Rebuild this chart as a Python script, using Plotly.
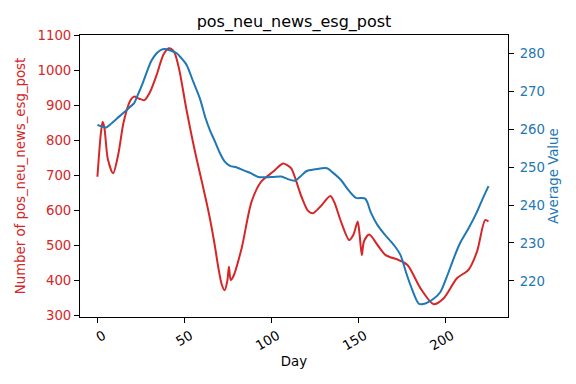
import plotly.graph_objects as go

# Red series: number of pos_neu_news_esg_post (left axis)
red_days = [0, 2, 3, 4, 6, 9, 12, 15, 18.8, 21, 24, 27, 30, 34, 38, 41, 44, 47, 51, 56,
            60, 64, 67, 69.5, 71.5, 73, 74.5, 75.5, 76.5, 78, 82.8, 88.5, 94, 100.8, 106.5,
            109, 111.3, 117, 121, 123.7, 128, 133.7, 136, 139.8, 144.6, 147, 149.4, 150.5,
            151.8, 153, 156, 160.8, 165.5, 173, 178, 185.5, 193, 198.8, 206.4, 213, 217.9,
            222.6, 224.5]
red_vals = [695, 820, 852, 835, 745, 705, 760, 850, 912, 924, 918, 914, 935, 986, 1045, 1062,
            1052, 1000, 890, 767, 680, 590, 510, 433, 385, 371, 395, 438, 400, 410, 491, 624,
            681, 709, 733, 728, 719, 640, 597, 591, 610, 640, 622, 567, 514, 530, 567, 530,
            471, 510, 530, 500, 471, 457, 443, 376, 331, 348, 405, 429, 481, 571, 567]

# Blue series: average value (right axis)
blue_days = [0, 2, 4.6, 8, 11.2, 15, 18.8, 21, 22.7, 25.5, 28.4, 31, 34, 36.5, 38.8, 42, 45.5,
             48, 51.2, 55, 58.8, 62, 64.5, 67.5, 70, 73, 76.1, 80, 84.6, 88, 92.3, 97, 101,
             105.6, 109, 113.2, 116, 119.9, 125, 131.8, 135, 139.8, 144, 148.4, 153.7, 157,
             160.8, 165, 170.3, 174, 177, 179.8, 184.5, 187, 190.2, 193, 196.9, 200.5, 204.5,
             208, 213, 217.9, 221, 224.5]
blue_vals = [261.1, 260.8, 260.4, 261.5, 262.8, 264.3, 265.9, 266.8, 268.5, 271.5, 275.1, 278,
             280, 280.9, 281.1, 280.7, 280, 278.8, 276.9, 272.5, 268.1, 263, 259.8, 256.7, 254,
             251.5, 250.3, 249.9, 249, 248.4, 247.4, 247.3, 247.4, 247.5, 246.9, 246.4, 247.3,
             248.9, 249.4, 249.7, 248.6, 246.6, 244, 241.9, 241.7, 238, 234.7, 232.2, 229.4,
             226.8, 222.5, 218.8, 214, 213.9, 214.5, 215.3, 217.1, 221, 225.9, 229.8, 233.8,
             238.2, 241.5, 245]

x_ticks = [0, 50, 100, 150, 200]
left_ticks = [300, 400, 500, 600, 700, 800, 900, 1000, 1100]
right_ticks = [220, 230, 240, 250, 260, 270, 280]

RED = "#d62728"
BLUE = "#1f77b4"
FONT = "DejaVu Sans"
FS = 13.3

W, H = 568, 376  # page body has an 8px margin

fig = go.Figure()
fig.add_trace(go.Scatter(x=red_days, y=red_vals, mode="lines", yaxis="y",
                         line=dict(color=RED, width=2, shape="spline", smoothing=0.8),
                         showlegend=False))
fig.add_trace(go.Scatter(x=blue_days, y=blue_vals, mode="lines", yaxis="y2",
                         line=dict(color=BLUE, width=2, shape="spline", smoothing=0.8),
                         showlegend=False))

fig.update_layout(
    width=W, height=H,
    margin=dict(l=70, r=68, t=27, b=67),
    paper_bgcolor="white", plot_bgcolor="white",
    font=dict(family=FONT, size=FS, color="black"),
    title=dict(text="pos_neu_news_esg_post", font=dict(size=16, color="black"),
               x=0.5, xref="paper", xanchor="center", y=1 - 13 / H, yanchor="middle"),
    xaxis=dict(range=[-10, 235.7], tickvals=x_ticks, tickangle=-30, ticklabelshift=6,
               ticks="outside", ticklen=5, tickcolor="black", showgrid=False, zeroline=False,
               showline=True, linecolor="black", linewidth=1, mirror=True,
               title=dict(text="Day", font=dict(size=FS), standoff=4)),
    yaxis=dict(range=[294.3, 1100], tickvals=left_ticks, ticks="outside", ticklen=5,
               tickcolor="black", tickfont=dict(color=RED), showgrid=False, zeroline=False,
               showline=True, linecolor="black", linewidth=1,
               title=dict(text="Number of pos_neu_news_esg_post",
                          font=dict(size=FS, color=RED), standoff=8)),
    yaxis2=dict(range=[210.5, 284.8], tickvals=right_ticks, overlaying="y", side="right",
                ticks="outside", ticklen=5, tickcolor="black", tickfont=dict(color=BLUE),
                ticklabelstandoff=3,
                showgrid=False, zeroline=False, showline=True, linecolor="black", linewidth=1,
                title=dict(text="Average Value", font=dict(size=FS, color=BLUE), standoff=4)),
)

fig.write_html("out.html")
